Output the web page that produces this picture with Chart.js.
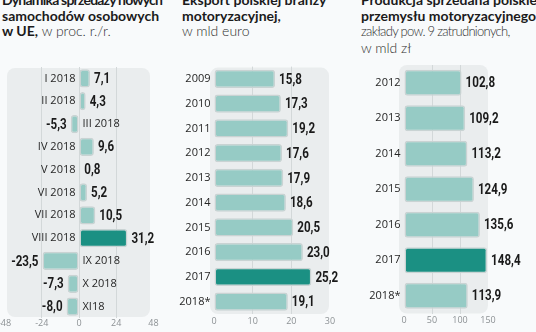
<!DOCTYPE html>
<html><head><meta charset="utf-8">
<script src="https://cdn.jsdelivr.net/npm/chart.js@4"></script>
<style>
html,body{margin:0;padding:0;background:#f8fafb;width:536px;height:332px;overflow:hidden;position:relative;font-family:Lato,"Open Sans",sans-serif}
.t{position:absolute;font-size:14px;line-height:15.5px;color:#1b1b1b;white-space:nowrap}
.t b{font-weight:700}
.t b.n{letter-spacing:-0.8px}
.t span{font-weight:300;color:#2e2e2e}
.t span.n{font-size:13px;letter-spacing:-0.7px}
canvas{position:absolute;top:0}
</style></head><body>
<div class="t" style="left:2px;top:-8px"><b class="n">Dynamika sprzedaży nowych</b><br><b>samochodów osobowych</b><br><b>w UE,</b> <span>w proc. r./r.</span></div>
<div class="t" style="left:182px;top:-8px"><b>Eksport polskiej branży</b><br><b>motoryzacyjnej,</b><br><span>w mld euro</span></div>
<div class="t" style="left:361px;top:-8px"><b>Produkcja sprzedana polskiego</b><br><b>przemysłu motoryzacyjnego</b><br><span class="n">zakłady pow. 9 zatrudnionych,</span><br><span>w mld zł</span></div>
<canvas id="c1" width="200" height="332" style="left:-10px"></canvas>
<canvas id="c2" width="190" height="332" style="left:170px"></canvas>
<canvas id="c3" width="176" height="332" style="left:360px"></canvas>
<script>
// ---- data ----
const salesCategories = ['I 2018','II 2018','III 2018','IV 2018','V 2018','VI 2018','VII 2018','VIII 2018','IX 2018','X 2018','XI18'];
const salesValues = [7.1, 4.3, -5.3, 9.6, 0.8, 5.2, 10.5, 31.2, -23.5, -7.3, -8.0];
const salesTicks = [-48, -24, 0, 24, 48];

const exportYears = ['2009','2010','2011','2012','2013','2014','2015','2016','2017','2018*'];
const exportValues = [15.8, 17.3, 19.2, 17.6, 17.9, 18.6, 20.5, 23.0, 25.2, 19.1];
const exportTicks = [0, 10, 20, 30];

const prodYears = ['2012','2013','2014','2015','2016','2017','2018*'];
const prodValues = [102.8, 109.2, 113.2, 124.9, 135.6, 148.4, 113.9];
const prodTicks = [0, 50, 100, 150];

const highlighted = ['VIII 2018', '2017'];

// ---- styling ----
const LIGHT = '#96cbc5', DARK = '#1b9083', EDGE = '#c9d3d3';
const fmt = v => v.toFixed(1).replace('.', ',');

const bgPlugin = {
  id: 'panelBg',
  beforeDraw(chart, args, opts) {
    const a = chart.chartArea, c = chart.ctx, i = opts.inset;
    c.save();
    c.fillStyle = '#eaedee';
    c.beginPath();
    c.roundRect(a.left + i[0], a.top + i[1], (a.right + i[2]) - (a.left + i[0]), (a.bottom + i[3]) - (a.top + i[1]), 8);
    c.fill();
    c.restore();
  }
};

function condensedText(c, txt, x, y, align) {
  const sx = 0.8;
  c.save();
  c.font = 'bold 14.5px Roboto';
  const w = c.measureText(txt).width * sx;
  const left = align === 'left' ? x : x - w;
  c.translate(left, y);
  c.scale(sx, 1);
  c.textAlign = 'left';
  c.fillText(txt, 0, 0);
  c.restore();
}

const labelPlugin = {
  id: 'barLabels',
  afterDatasetsDraw(chart) {
    const c = chart.ctx, meta = chart.getDatasetMeta(0);
    const cats = chart.data.labels, vals = chart.data.datasets[0].data;
    meta.data.forEach((el, i) => {
      const v = vals[i];
      const p = el.getProps(['x', 'y', 'base'], true);
      c.save();
      c.textBaseline = 'middle';
      c.font = '11px "Open Sans"';
      c.fillStyle = '#262626';
      if (v >= 0) { c.textAlign = 'right'; c.fillText(cats[i], p.base - 4, p.y); }
      else { c.textAlign = 'left'; c.fillText(cats[i], p.base + 4, p.y); }
      c.fillStyle = '#1a1a1a';
      if (v >= 0) condensedText(c, fmt(v), p.x + 4, p.y + 1, 'left');
      else condensedText(c, fmt(v), p.x - 4, p.y + 1, 'right');
      c.restore();
    });
  }
};

function makeChart(id, cats, vals, ticks, pad, tickPad, inset, barPct) {
  const min = ticks[0], max = ticks[ticks.length - 1];
  return new Chart(document.getElementById(id), {
    type: 'bar',
    data: {
      labels: cats,
      datasets: [{
        data: vals,
        backgroundColor: ctx => highlighted.includes(cats[ctx.dataIndex]) ? DARK : LIGHT,
        borderColor: EDGE,
        borderWidth: 1.5,
        borderRadius: 3,
        borderSkipped: false,
        barPercentage: barPct,
        categoryPercentage: 1
      }]
    },
    options: {
      indexAxis: 'y',
      responsive: false,
      animation: false,
      devicePixelRatio: 1,
      layout: { padding: pad },
      plugins: { legend: { display: false }, tooltip: { enabled: false }, panelBg: { inset } },
      scales: {
        y: { display: false },
        x: {
          min, max,
          afterBuildTicks: s => { s.ticks = ticks.map(v => ({ value: v })); },
          afterFit: s => { s.height = 14; },
          border: { display: false },
          grid: {
            drawTicks: false,
            color: ctx => (ctx.tick && (ctx.tick.value === min || ctx.tick.value === max)) ? 'rgba(0,0,0,0)' : '#d3d8d9',
            lineWidth: 1
          },
          ticks: {
            padding: tickPad,
            color: '#8c9194',
            font: { family: 'Open Sans', size: 9 },
            maxRotation: 0,
            autoSkip: false,
            callback: v => String(v)
          }
        }
      }
    },
    plugins: [bgPlugin, labelPlugin]
  });
}

makeChart('c1', salesCategories, salesValues, salesTicks, { left: 14.5, right: 36.5, top: 67, bottom: 0 }, 0, [2.5, 1, -3.5, -1], 0.8);
makeChart('c2', exportYears, exportValues, exportTicks, { left: 44, right: 30, top: 66.6, bottom: 4 }, 2, [-4, 1, -1, 0], 0.74);
makeChart('c3', prodYears, prodValues, prodTicks, { left: 44, right: 48, top: 65, bottom: 4.5 }, 2, [-5, 0, 0, 0], 0.73);
</script>
</body></html>
